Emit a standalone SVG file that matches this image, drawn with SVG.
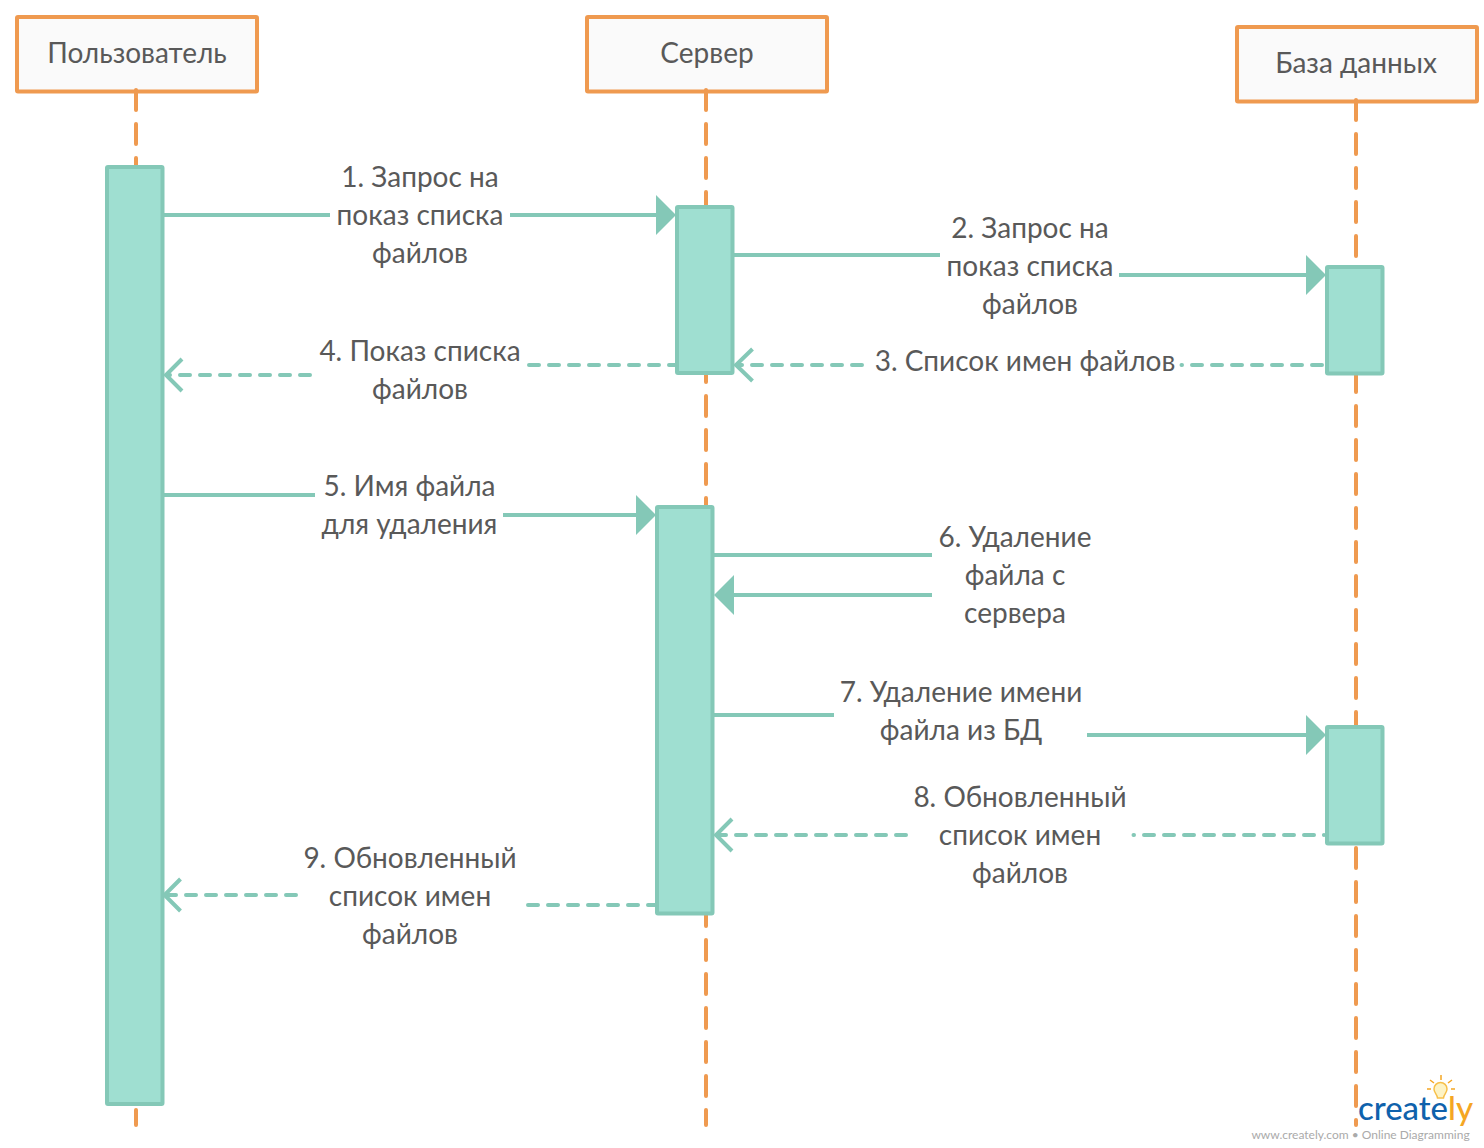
<svg xmlns="http://www.w3.org/2000/svg" width="1484" height="1148" viewBox="0 0 1484 1148">
<style>
text{font-family:Lato,"Noto Sans","Open Sans",sans-serif;font-size:28px;fill:#595959;text-anchor:middle}
.box{fill:#fafafa;stroke:#ef9a50;stroke-width:4;stroke-linejoin:round}
.bar{fill:#9fdfd1;stroke:#84c8b7;stroke-width:4;stroke-linejoin:round}
.life{stroke:#ef9a50;stroke-width:4;fill:none;stroke-dasharray:20 14;stroke-linecap:round}
.solid{stroke:#84c8b7;stroke-width:4;fill:none}
.dash{stroke:#84c8b7;stroke-width:4;fill:none;stroke-dasharray:10 10;stroke-linecap:round}
.tri{fill:#84c8b7}
.open{stroke:#84c8b7;stroke-width:4;fill:none}
.logo{font-size:32px;text-anchor:start;font-weight:500}
</style>
<g id="node-user"><rect class="box" x="17" y="17" width="240" height="74.500" rx="1"/><text x="137" y="63">Пользователь</text></g>
<g id="node-server"><rect class="box" x="587" y="17" width="240" height="74.500" rx="1"/><text x="707" y="63">Сервер</text></g>
<g id="node-db"><rect class="box" x="1237" y="27" width="240" height="74.500" rx="1"/><text x="1356" y="73">База данных</text></g>
<g id="lifelines">
<path class="life" d="M136 90V1125"/>
<path class="life" d="M706 90V1125"/>
<path class="life" d="M1356 100V1125"/>
</g>
<g id="bar-user"><rect class="bar" x="107" y="167" width="55.500" height="937" rx="1"/></g>
<g id="bar-server-1"><rect class="bar" x="677" y="207" width="55.500" height="166" rx="1"/></g>
<g id="bar-server-2"><rect class="bar" x="657" y="507" width="55.500" height="406.500" rx="1"/></g>
<g id="bar-db-1"><rect class="bar" x="1327" y="267" width="55.500" height="106.500" rx="1"/></g>
<g id="bar-db-2"><rect class="bar" x="1327" y="727" width="55.500" height="116.500" rx="1"/></g>
<g id="connectors">
<path class="solid" d="M164 215H330M510 215H657"/><path class="tri" d="M656 195L676 215L656 235Z"/>
<path class="solid" d="M734 255H940M1119 275H1307"/><path class="tri" d="M1306 255L1326 275L1306 295Z"/>
<path class="dash" d="M1322 365H1181.500M862 365H737"/><path class="open" d="M752.500 349L736 365L752.500 381"/>
<path class="dash" d="M529 365H675M310 375H167"/><path class="open" d="M182 359L166 375L182 391"/>
<path class="solid" d="M164 495H315M503 515H637"/><path class="tri" d="M636 495L656 515L636 535Z"/>
<path class="solid" d="M714 555H932M932 595H733"/><path class="tri" d="M734 575L714 595L734 615Z"/>
<path class="solid" d="M714 715H834M1087 735H1307"/><path class="tri" d="M1306 715L1326 735L1306 755Z"/>
<path class="dash" d="M1324 835h-.1M1314 835H1133.500M906 835H717"/><path class="open" d="M732 819L716 835L732 851"/>
<path class="dash" d="M528 905H655M296 895H167"/><path class="open" d="M180.500 879L164.500 895L180.500 911"/>
</g>
<g id="labels">
<text x="420" y="187">1. Запрос на</text><text x="420" y="225">показ списка</text><text x="420" y="263">файлов</text>
<text x="1030" y="238">2. Запрос на</text><text x="1030" y="276">показ списка</text><text x="1030" y="314">файлов</text>
<text x="1025" y="371">3. Список имен файлов</text>
<text x="420" y="361">4. Показ списка</text><text x="420" y="399">файлов</text>
<text x="409.500" y="496">5. Имя файла</text><text x="409.500" y="534">для удаления</text>
<text x="1015" y="547">6. Удаление</text><text x="1015" y="585">файла с</text><text x="1015" y="623">сервера</text>
<text x="961" y="702">7. Удаление имени</text><text x="961" y="740">файла из БД</text>
<text x="1020" y="807">8. Обновленный</text><text x="1020" y="845">список имен</text><text x="1020" y="883">файлов</text>
<text x="410" y="868">9. Обновленный</text><text x="410" y="906">список имен</text><text x="410" y="944">файлов</text>
</g>
<g id="logo">
<text class="logo" x="1358" y="1120" textLength="90" lengthAdjust="spacingAndGlyphs" style="fill:#0f62ac">create</text>
<text class="logo" x="1448" y="1120" textLength="25" lengthAdjust="spacingAndGlyphs" style="fill:#f5a623">ly</text>
<path d="M1434 1089a6.500 6.500 0 1 1 13 0c0 4-3 5-3.500 9h-6c-.5-4-3.500-5-3.500-9z" fill="#fdf3c4" stroke="#f7c04a" stroke-width="1.500"/>
<path d="M1441 1075v5M1430 1080l4 3M1452 1080l-4 3M1427 1089h4M1451 1089h4" stroke="#f5a623" stroke-width="1.500" fill="none"/>
<text x="1360.500" y="1139" style="font-size:12px;fill:#aaaaaa">www.creately.com • Online Diagramming</text>
</g>
</svg>
